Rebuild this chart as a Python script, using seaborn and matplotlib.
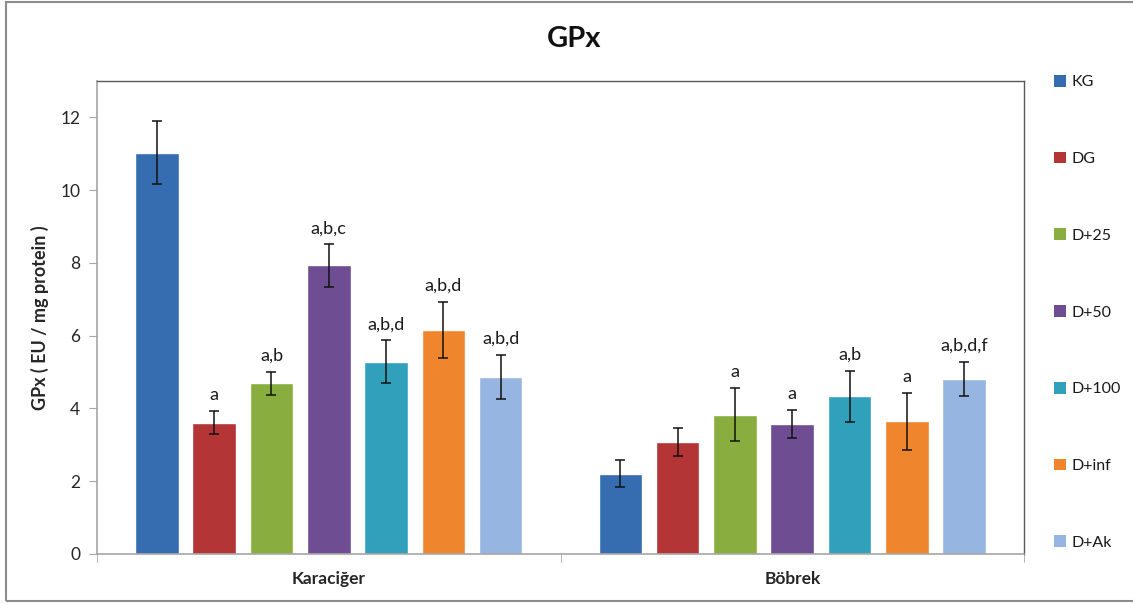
import matplotlib
matplotlib.use("Agg")
import matplotlib.pyplot as plt
import numpy as np
import pandas as pd
import seaborn as sns
from matplotlib.patches import Patch, Rectangle

# ---- data ----
organs = ["Karaciğer", "Böbrek"]
groups = ["KG", "DG", "D+25", "D+50", "D+100", "D+inf", "D+Ak"]
colors = ["#366CB0", "#B43535", "#8AAD3F", "#6E4D92", "#31A0BB", "#EF862D", "#97B5E1"]

liver_mean = [11.03, 3.61, 4.69, 7.93, 5.29, 6.16, 4.87]
liver_err = [0.86, 0.32, 0.31, 0.58, 0.58, 0.77, 0.60]
kidney_mean = [2.21, 3.07, 3.83, 3.58, 4.33, 3.65, 4.81]
kidney_err = [0.37, 0.38, 0.73, 0.38, 0.70, 0.78, 0.48]

liver_letters = ["", "a", "a,b", "a,b,c", "a,b,d", "a,b,d", "a,b,d"]
kidney_letters = ["", "", "a", "a", "a,b", "a", "a,b,d,f"]

y_ticks = [0, 2, 4, 6, 8, 10, 12]

df = pd.DataFrame({
    "organ": [organs[0]] * len(groups) + [organs[1]] * len(groups),
    "group": groups * 2,
    "value": liver_mean + kidney_mean,
    "err": liver_err + kidney_err,
    "letters": liver_letters + kidney_letters,
})

# ---- style ----
sns.set_style("white")
plt.rcParams["font.family"] = ["Lato", "DejaVu Sans"]
plt.rcParams["text.color"] = "#1A1A1A"

W, H = 1133, 603
fig = plt.figure(figsize=(W / 100, H / 100), dpi=100)
ax = fig.add_axes([97 / W, 49 / H, 927 / W, 473 / H])

sns.barplot(
    data=df, x="organ", y="value", hue="group",
    order=organs, hue_order=groups, palette=colors,
    width=0.865, gap=0.24, errorbar=None, saturation=1,
    legend=False, ax=ax,
)
bar_containers = list(ax.containers)

# error bars and significance letters, placed on each drawn bar
for gi, container in enumerate(bar_containers):
    for oi, bar in enumerate(container):
        row = df[(df["organ"] == organs[oi]) & (df["group"] == groups[gi])].iloc[0]
        xc = bar.get_x() + bar.get_width() / 2
        ax.errorbar(xc, row["value"], yerr=row["err"], fmt="none",
                    ecolor="#111111", elinewidth=1.1, capsize=3.3, capthick=1.1, zorder=3)
        if row["letters"]:
            ax.annotate(row["letters"], (xc, row["value"] + row["err"]),
                        xytext=(0, 8), textcoords="offset points",
                        ha="center", va="baseline", fontsize=13, color="#1A1A1A")

ax.set_xlim(-0.5, 1.5)
ax.set_ylim(0, 13)
ax.set_yticks(y_ticks)
ax.set_yticklabels([str(t) for t in y_ticks], fontsize=12.5)
ax.set_xticks([0, 1])
ax.set_xticklabels(organs, fontsize=12.5, fontweight="bold")
ax.set_xticks([-0.5, 0.5, 1.5], minor=True)
ax.tick_params(axis="x", which="major", length=0, pad=12)
ax.tick_params(axis="x", which="minor", length=6, color="#A6A6A6", direction="out", bottom=True)
ax.tick_params(axis="y", length=6, color="#A6A6A6", direction="out", left=True, pad=6)
ax.set_xlabel("")
ax.set_ylabel("GPx ( EU / mg protein )", fontsize=13, fontweight="bold", labelpad=8)

for side in ["top", "right"]:
    ax.spines[side].set_color("#595959")
    ax.spines[side].set_linewidth(1.0)
for side in ["left", "bottom"]:
    ax.spines[side].set_color("#A6A6A6")
    ax.spines[side].set_linewidth(1.2)

# title
fig.text(574 / W, 1 - 47 / H, "GPx", ha="center", va="baseline",
         fontsize=21, fontweight="bold", color="#111111")

# legend on the right
handles = [Patch(facecolor=c, edgecolor="none", label=g) for g, c in zip(groups, colors)]
fig.legend(handles=handles, loc="upper left", bbox_to_anchor=(1054 / W, 1 - 75 / H),
           frameon=False, fontsize=11.5, handlelength=0.75, handleheight=0.75,
           handletextpad=0.35, labelspacing=3.9, borderpad=0, borderaxespad=0)

# chart border
fig.add_artist(Rectangle((6 / W, 2 / H), 1.2, 599 / H, transform=fig.transFigure,
                         fill=False, edgecolor="#8C8C8C", linewidth=1.5))

fig.savefig("out.png", dpi=100)
